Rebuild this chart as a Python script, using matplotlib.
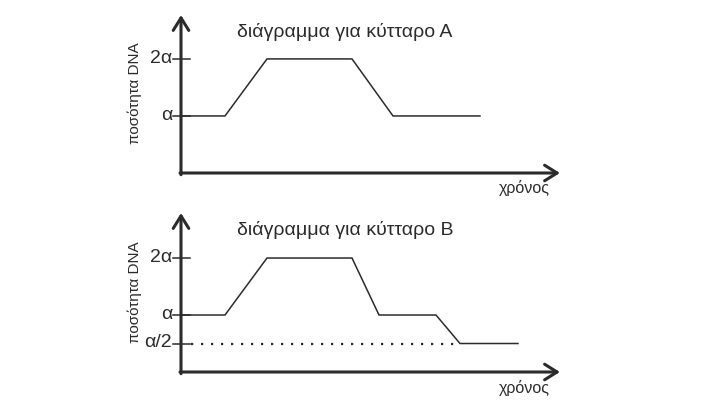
import matplotlib
matplotlib.use("Agg")
import matplotlib.pyplot as plt

plt.rcParams['font.family'] = ['Liberation Sans', 'DejaVu Sans']

# Data (time in arbitrary units, DNA amount in units of α)
time_A = [0, 4.4, 8.6, 17.1, 21.2, 29.9]
dna_A = [1, 1, 2, 2, 1, 1]
time_B = [0, 4.4, 8.6, 17.1, 19.8, 25.5, 27.9, 33.7]
dna_B = [1, 1, 2, 2, 1, 1, 0.5, 0.5]
titles = ["διάγραμμα για κύτταρο Α", "διάγραμμα για κύτταρο Β"]
ylabel = "ποσότητα DNA"
xlabel = "χρόνος"
ticks_A = [1, 2]
ticklabels_A = ["α", "2α"]
ticks_B = [0.5, 1, 2]
ticklabels_B = ["α/2", "α", "2α"]

W, H = 707, 405
fig = plt.figure(figsize=(W / 100, H / 100), dpi=100)
col = '#2b2b2b'

def make_panel(rect, t, v, ticks, tlabels, title, ymax, tc_y, xl_y, dotted=None):
    ax = fig.add_axes(rect)
    ax.set_xlim(0, 37.9)
    ax.set_ylim(0, ymax)
    ax.axis('off')
    ax.plot(t, v, color=col, lw=1.1, solid_joinstyle='miter', clip_on=False)
    if dotted is not None:
        ax.plot([1.0, dotted], [0.5, 0.5], color=col, lw=1.6, dashes=(1.0, 3.5), clip_on=False)
    for tk, lb in zip(ticks, tlabels):
        ax.plot([-0.8, 0.9], [tk, tk], color=col, lw=1.1, clip_on=False)
        ax.text(-0.9, tk + 0.01, lb, ha='right', va='center', fontsize=14, color=col)
    ap = dict(arrowstyle='->,head_length=0.45,head_width=0.28', lw=2.2, color=col,
              shrinkA=0, shrinkB=0, mutation_scale=20)
    ax.annotate('', xy=(37.9, 0), xytext=(-0.1, 0), arrowprops=ap, annotation_clip=False)
    ax.annotate('', xy=(0, ymax), xytext=(0, -0.03), arrowprops=ap, annotation_clip=False)
    ax.text(16.4, tc_y, title, ha='center', va='center', fontsize=14, color=col)
    ax.text(-4.6, 1.4, ylabel, ha='center', va='center', rotation=90, fontsize=11, color=col)
    ax.text(34.3, xl_y, xlabel, ha='center', va='center', fontsize=11.5, color=col)
    return ax

make_panel([181 / W, (H - 173) / H, 379 / W, 158 / H], time_A, dna_A, ticks_A, ticklabels_A,
           titles[0], 2.77, 2.47, -0.26)
make_panel([181 / W, (H - 372) / H, 379 / W, 159 / H], time_B, dna_B, ticks_B, ticklabels_B,
           titles[1], 2.79, 2.49, -0.28, dotted=27.9)

fig.savefig('out.png', dpi=100)
